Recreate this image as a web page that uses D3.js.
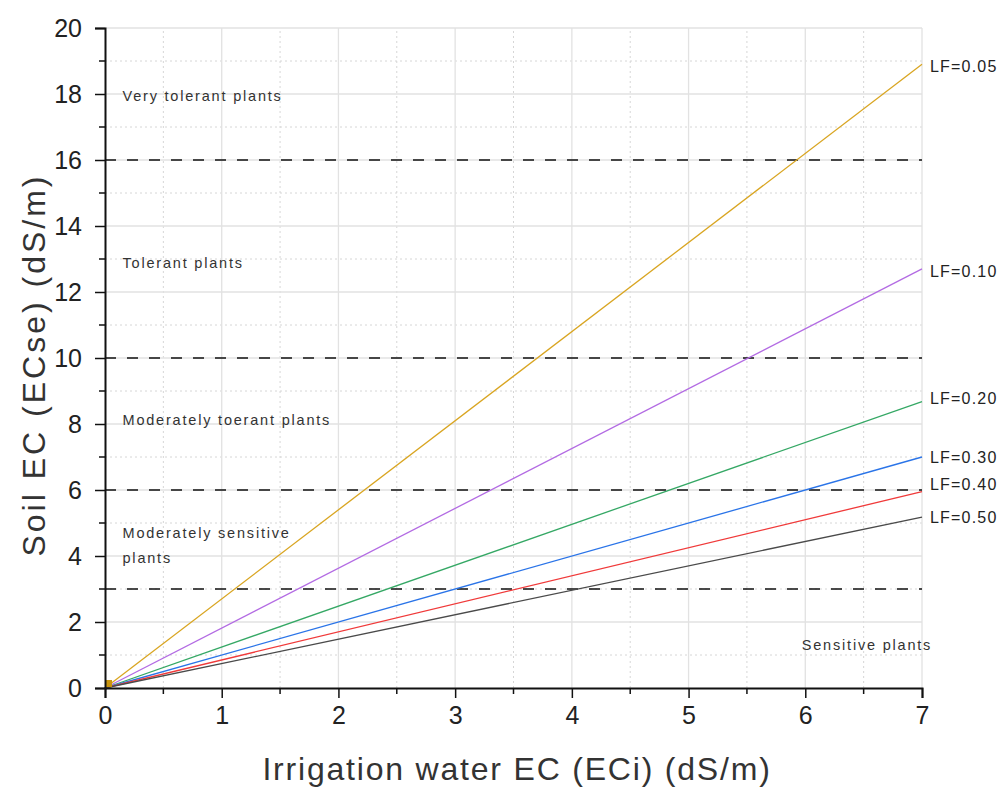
<!DOCTYPE html>
<html>
<head>
<meta charset="utf-8">
<script src="https://cdn.jsdelivr.net/npm/d3@7"></script>
<style>
  body { margin: 0; background: #fff; }
  text { font-family: "Liberation Sans", Arial, sans-serif; }
</style>
</head>
<body>
<div id="chart"></div>
<script>
// irrigation water EC (x) and soil EC for each leaching fraction
let eci = [0, 7];
let lf005 = [0, 18.9];
let lf010 = [0, 12.7];
let lf020 = [0, 8.68];
let lf030 = [0, 7.0];
let lf040 = [0, 5.95];
let lf050 = [0, 5.18];
let lfNames = ['LF=0.05', 'LF=0.10', 'LF=0.20', 'LF=0.30', 'LF=0.40', 'LF=0.50'];
let lfColors = ['#d9a521', '#b36be3', '#35a865', '#2a74e8', '#f03a3a', '#4a4a4a'];

let thresholds = [3, 6, 10, 16];
let zoneNames = ['Very tolerant plants', 'Tolerant plants', 'Moderately toerant plants', 'Moderately sensitive|plants', 'Sensitive plants'];
let zoneX = [0.15, 0.15, 0.15, 0.15, 5.97];
let zoneY = [17.8, 12.73, 7.97, 4.55, 1.15];

let xTicks = [0, 1, 2, 3, 4, 5, 6, 7];
let yTicks = [0, 2, 4, 6, 8, 10, 12, 14, 16, 18, 20];

let width = 1000, height = 790;
let svg = d3.select('#chart').append('svg')
  .attr('width', width)
  .attr('height', height);

let x = d3.scaleLinear().domain([0, 7]).range([105, 922]);
let y = d3.scaleLinear().domain([0, 20]).range([688, 28]);

// grid
let minorX = d3.range(0.5, 7, 1);
let minorY = d3.range(1, 20, 2);
svg.append('g').selectAll('line').data(minorX).enter().append('line')
  .attr('x1', d => x(d)).attr('x2', d => x(d))
  .attr('y1', y(0)).attr('y2', y(20))
  .attr('stroke', '#d6d6d6').attr('stroke-dasharray', '2,3');
svg.append('g').selectAll('line').data(minorY).enter().append('line')
  .attr('y1', d => y(d)).attr('y2', d => y(d))
  .attr('x1', x(0)).attr('x2', x(7))
  .attr('stroke', '#d6d6d6').attr('stroke-dasharray', '2,3');
svg.append('g').selectAll('line').data(xTicks.slice(1)).enter().append('line')
  .attr('x1', d => x(d)).attr('x2', d => x(d))
  .attr('y1', y(0)).attr('y2', y(20))
  .attr('stroke', '#e2e2e2').attr('stroke-width', 1.3);
svg.append('g').selectAll('line').data(yTicks.slice(1)).enter().append('line')
  .attr('y1', d => y(d)).attr('y2', d => y(d))
  .attr('x1', x(0)).attr('x2', x(7))
  .attr('stroke', '#e2e2e2').attr('stroke-width', 1.3);

// threshold lines
svg.append('g').selectAll('line').data(thresholds).enter().append('line')
  .attr('y1', d => y(d)).attr('y2', d => y(d))
  .attr('x1', x(0)).attr('x2', x(7))
  .attr('stroke', '#111').attr('stroke-width', 1.6)
  .attr('stroke-dasharray', '11,11');

// zone labels
zoneNames.forEach((name, i) => {
  let t = svg.append('text')
    .attr('x', x(zoneX[i]))
    .attr('y', y(zoneY[i]))
    .attr('font-size', 14.5)
    .attr('letter-spacing', 1.8)
    .attr('fill', '#333');
  name.split('|').forEach((part, j) => {
    t.append('tspan').attr('x', x(zoneX[i])).attr('dy', j == 0 ? 0 : 25).text(part);
  });
});

// LF lines
let series = [lf005, lf010, lf020, lf030, lf040, lf050];
let line = d3.line().x((d, i) => x(eci[i])).y(d => y(d));
series.forEach((vals, i) => {
  svg.append('path')
    .datum(vals)
    .attr('d', line)
    .attr('fill', 'none')
    .attr('stroke', lfColors[i])
    .attr('stroke-width', 1.3);
});
let labelDy = [7.5, 8, 2.5, 6, -1.5, 6];
series.forEach((vals, i) => {
  svg.append('text')
    .attr('x', x(7) + 8)
    .attr('y', y(vals[vals.length - 1]) + labelDy[i])
    .attr('font-size', 16)
    .attr('letter-spacing', 1.2)
    .attr('fill', '#222')
    .text(lfNames[i]);
});

// origin marker
svg.append('rect')
  .attr('x', x(0)).attr('y', y(0) - 8)
  .attr('width', 7).attr('height', 7)
  .attr('fill', '#c9950e');

// axes
let xAxis = svg.append('g')
  .attr('transform', 'translate(0,' + y(0) + ')')
  .call(d3.axisBottom(x).tickValues(xTicks).tickFormat(d3.format('d')).tickSize(10).tickSizeOuter(10));
xAxis.append('g').selectAll('line').data(minorX).enter().append('line')
  .attr('x1', d => x(d)).attr('x2', d => x(d))
  .attr('y1', 0).attr('y2', 6)
  .attr('stroke', '#111').attr('stroke-width', 1.5);

let yAxis = svg.append('g')
  .attr('transform', 'translate(' + x(0) + ',0)')
  .call(d3.axisLeft(y).tickValues(yTicks).tickFormat(d3.format('d')).tickSize(10).tickSizeOuter(10));
yAxis.append('g').selectAll('line').data(minorY).enter().append('line')
  .attr('y1', d => y(d)).attr('y2', d => y(d))
  .attr('x1', 0).attr('x2', -6)
  .attr('stroke', '#111').attr('stroke-width', 1.5);

[xAxis, yAxis].forEach(a => {
  a.select('.domain').attr('stroke', '#111').attr('stroke-width', 2);
  a.selectAll('.tick line').attr('stroke', '#111').attr('stroke-width', 1.5);
  a.selectAll('.tick text')
    .attr('font-size', 25)
    .attr('fill', '#222')
    .style('font-family', '"Liberation Sans", Arial, sans-serif');
});
xAxis.selectAll('.tick text').attr('y', 18).attr('dy', '0.71em');
yAxis.selectAll('.tick text').attr('x', -23);

// titles
svg.append('text')
  .attr('x', 517).attr('y', 780)
  .attr('text-anchor', 'middle')
  .attr('font-size', 32)
  .attr('letter-spacing', 1.8)
  .attr('fill', '#333')
  .text('Irrigation water EC (ECi) (dS/m)');

svg.append('text')
  .attr('transform', 'translate(45,365) rotate(-90)')
  .attr('text-anchor', 'middle')
  .attr('font-size', 32)
  .attr('letter-spacing', 3)
  .attr('fill', '#333')
  .text('Soil EC (ECse) (dS/m)');
</script>
</body>
</html>
